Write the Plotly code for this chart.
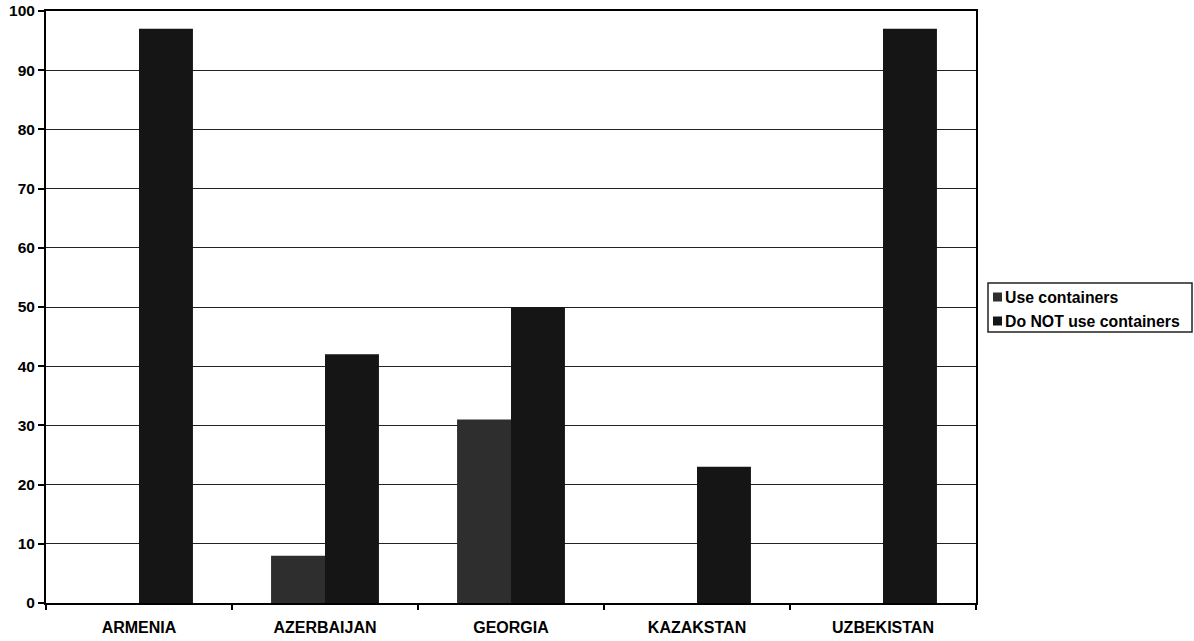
import plotly.graph_objects as go

# Survey results by country (percent of respondents)
countries = ["ARMENIA", "AZERBAIJAN", "GEORGIA", "KAZAKSTAN", "UZBEKISTAN"]
use_containers = [0, 8, 31, 0, 0]
not_use_containers = [97, 42, 50, 23, 97]
y_ticks = [0, 10, 20, 30, 40, 50, 60, 70, 80, 90, 100]

series_names = ["Use containers", "Do NOT use containers"]
series_colors = ["#2e2e2e", "#151515"]

font_family = "Liberation Sans, Arial, sans-serif"

W, H = 1194, 641
ML, MR, MT, MB = 46, 218, 11, 38
plot_w = W - ML - MR
plot_h = H - MT - MB


def px_to_paper(px, py):
    return (px - ML) / plot_w, (H - MB - py) / plot_h


fig = go.Figure()
for name, color, vals in zip(series_names, series_colors,
                             [use_containers, not_use_containers]):
    fig.add_trace(go.Bar(
        x=countries, y=vals, name=name,
        marker=dict(color=color, line=dict(width=0)),
    ))

# Boxed legend to the right of the plot area, with compact swatches
shapes = []
annotations = []
bx0, by0 = px_to_paper(988, 332)
bx1, by1 = px_to_paper(1192, 283)
shapes.append(dict(type="rect", xref="paper", yref="paper",
                   x0=bx0, x1=bx1, y0=by0, y1=by1,
                   line=dict(color="#222", width=1.5), fillcolor="white"))
for i, (name, color) in enumerate(zip(series_names, series_colors)):
    row_y = 297 + 24 * i
    sx0, sy0 = px_to_paper(993, row_y + 4.5)
    sx1, sy1 = px_to_paper(1002, row_y - 4.5)
    shapes.append(dict(type="rect", xref="paper", yref="paper",
                       x0=sx0, x1=sx1, y0=sy0, y1=sy1,
                       line=dict(width=0), fillcolor=color))
    tx, ty = px_to_paper(1003, row_y)
    annotations.append(dict(
        x=tx, y=ty, xref="paper", yref="paper", text=name,
        showarrow=False, xanchor="left", yanchor="middle",
        font=dict(family=font_family, size=15.8, color="black", weight=700),
    ))

fig.update_layout(
    width=W, height=H,
    margin=dict(l=ML, r=MR, t=MT, b=MB),
    paper_bgcolor="white", plot_bgcolor="white",
    barmode="group", bargap=0.42, bargroupgap=0,
    font=dict(family=font_family, size=15, color="black", weight=700),
    showlegend=False,
    shapes=shapes,
    annotations=annotations,
    xaxis=dict(
        type="category", tickson="boundaries", automargin=False,
        showline=True, linecolor="black", linewidth=2, mirror=True,
        ticks="outside", ticklen=5, tickcolor="black", tickwidth=1.5,
        ticklabelstandoff=9,
        showgrid=False, tickfont=dict(size=16, weight=700),
    ),
    yaxis=dict(
        range=[0, 100], tickvals=y_ticks, automargin=False,
        showline=True, linecolor="black", linewidth=2, mirror=True,
        ticks="outside", ticklen=6, tickcolor="black", tickwidth=1.5,
        showgrid=True, gridcolor="#222", gridwidth=1.2,
        zeroline=False, tickfont=dict(size=15.5, weight=700),
    ),
)

fig.write_html("out.html")
